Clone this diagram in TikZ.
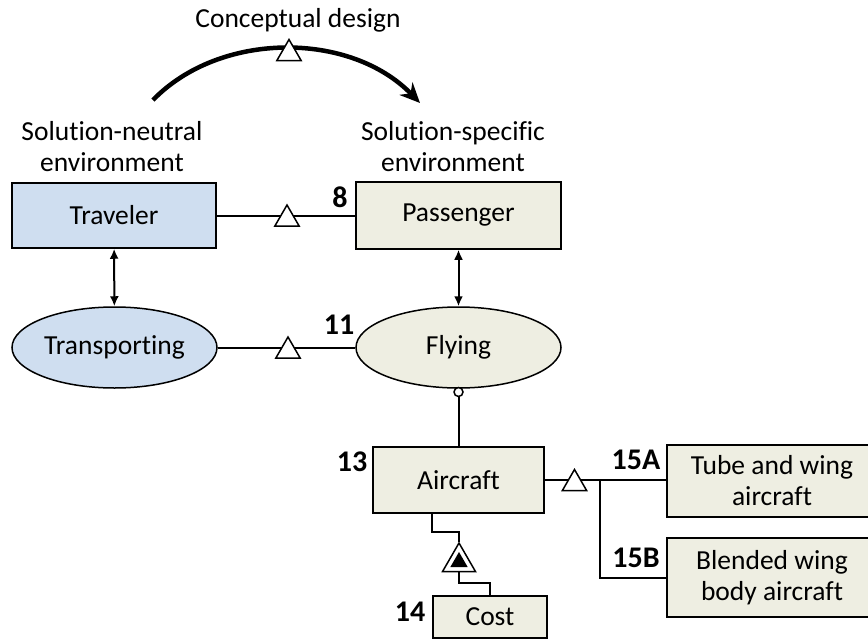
\documentclass[tikz,border=0pt]{standalone}
\usepackage{fontspec}
\setmainfont{Carlito}[Ligatures=NoCommon]
\usetikzlibrary{shapes.geometric,arrows.meta}
\definecolor{bluefill}{RGB}{207,222,240}
\definecolor{beigefill}{RGB}{238,238,226}

\begin{document}
\begin{tikzpicture}[x=1pt,y=-1pt,line width=2pt,
  font=\fontsize{27.5}{31}\selectfont,
  obj/.style={draw,line width=1.5pt,inner sep=0pt,align=center},
  proc/.style={ellipse,draw,line width=1.5pt,inner sep=0pt,minimum width=205pt,minimum height=81pt},
  num/.style={font=\fontsize{30}{34}\selectfont\bfseries},
  tri/.style={regular polygon,regular polygon sides=3,draw,fill=white,line width=1.5pt,inner sep=0pt,minimum size=28pt,yshift=-3.5pt},
  agg/.style={regular polygon,regular polygon sides=3,draw,fill=white,line width=1.5pt,inner sep=0pt,minimum size=38pt},
  dbl/.style={{Latex[length=10pt,width=9pt]}-{Latex[length=10pt,width=9pt]}}]

\useasboundingbox (0,0) rectangle (868,643);

\node [obj,fill=bluefill,minimum width=204pt,minimum height=65pt] (trav) at (114,215.5) {Traveler};
\node [obj,fill=beigefill,minimum width=205pt,minimum height=67pt] (pass) at (458.5,215.5) {Passenger};
\node [proc,fill=bluefill] (trans) at (114.5,347.5) {Transporting};
\node [proc,fill=beigefill] (fly) at (458.5,347.5) {Flying};
\node [obj,fill=beigefill,minimum width=171pt,minimum height=66pt] (air) at (458.5,480) {Aircraft};
\node [obj,fill=beigefill,minimum width=114pt,minimum height=42pt] (cost) at (490,617) {Cost};
\node [obj,fill=beigefill,minimum width=210pt,minimum height=72pt] (tube) at (772,481) {Tube and wing\\aircraft};
\node [obj,fill=beigefill,minimum width=210pt,minimum height=79pt] (blend) at (772,577.5) {Blended wing\\body aircraft};

\node (tdl) at (298,20) {Conceptual design};
\node [align=center] (neut) at (112,147) {Solution-neutral\\environment};
\node [align=center] (spec) at (453,147) {Solution-specific\\environment};

\coordinate (from) at (153,100);
\coordinate (to) at (420,103);
\draw [line width=4.5pt,-{Stealth[length=20pt,width=18pt]}] (from) .. controls (220,31) and (350,31) .. (to);
\node [tri] (td) at (289,50) {};

\draw (trav) -- (pass);
\node [tri] (t8) at (287,215.5) {};
\draw (trans) -- (fly);
\node [tri] (t11) at (288,347.5) {};
\draw [dbl] (trav) -- (trans);
\draw [dbl] (pass) -- (fly);

\node [circle,draw,fill=white,line width=1.5pt,inner sep=0pt,minimum size=9pt] (ring) at (458.5,392) {};
\draw (ring) -- (air);

\draw (air.east) -- (air.east -| tube.west);
\node [tri] (t15) at (574.5,480) {};
\coordinate (fork) at (600,480);
\draw (fork) |- (blend.west);

\node [agg] (own) at (459,562) {};
\node [regular polygon,regular polygon sides=3,fill=black,inner sep=0pt,minimum size=20pt] (ownin) at (459,562) {};
\draw ([xshift=-26.5pt]air.south) |- ([yshift=10pt]own.north) -- (own.north);
\draw (own.south) -- ++(0,11) -| (cost.north);

\node [num] (l8) at (340,197) {8};
\node [num] (l11) at (339,325) {11};
\node [num] (l13) at (352,462) {13};
\node [num] (l14) at (410,612) {14};
\node [num] (l15a) at (636,460) {15A};
\node [num] (l15b) at (636,558) {15B};

\end{tikzpicture}
\end{document}
